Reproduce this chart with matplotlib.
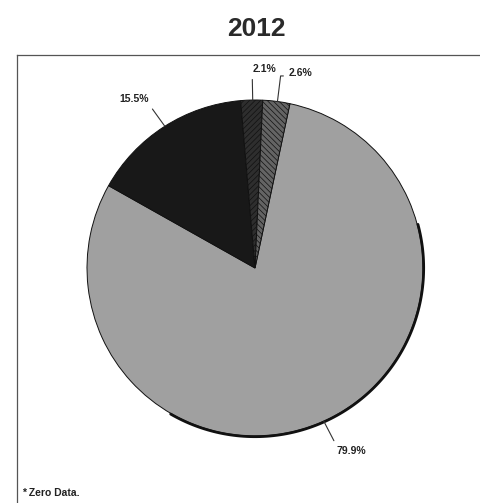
import matplotlib

matplotlib.use("Agg")
import matplotlib.pyplot as plt
import numpy as np
from matplotlib.lines import Line2D

plt.rcParams["font.family"] = ["Liberation Sans", "DejaVu Sans"]
plt.rcParams["hatch.linewidth"] = 0.5

# data, clockwise from just right of 12 o'clock
shares = [79.9, 15.5, 2.1, 2.6]
labels = ["79.9%", "15.5%", "2.1%", "2.6%"]
colors = ["#a0a0a0", "#181818", "#2e2e2e", "#646464"]
hatches = [None, None, "//////", "\\\\\\\\\\\\"]
title = "2012"
footnote = "* Zero Data."

W, H, dpi = 481, 503, 100
CX, CY, R = 255, 268, 168  # pie centre / radius in pixels
fig = plt.figure(figsize=(W / dpi, H / dpi), dpi=dpi)
ax = fig.add_axes([0, 0, 1, 1])

start = 78.0
wedges, _ = ax.pie(shares, colors=colors, startangle=start, counterclock=False,
                   wedgeprops=dict(edgecolor="#111111", linewidth=0.7))
for w, h in zip(wedges, hatches):
    if h:
        w.set_hatch(h)

# shadow rim along lower edge
th = np.linspace(np.radians(-120), np.radians(15), 120)
ax.plot(1.004 * np.cos(th), 1.004 * np.sin(th), color="#111111", lw=2.0,
        solid_capstyle="round")

# label text positions (data units) and leader styles
text_pos = [(0.574, -1.089), (-0.72, 1.006), (0.054, 1.185), (0.202, 1.161)]
ha = ["center", "center", "center", "left"]
relpos = [(0.0, 1.0), (1.0, 0.0), (0.0, 0.0), (0.0, 0.2)]
conn = ["arc3", "arc3", "arc3", "angle,angleA=180,angleB=83,rad=0"]
cum = start
for share, lab, (tx, ty), a, rp, cs in zip(shares, labels, text_pos, ha, relpos, conn):
    mid = np.radians(cum - share * 3.6 / 2)
    cum -= share * 3.6
    ex, ey = np.cos(mid), np.sin(mid)
    ax.annotate(lab, xy=(ex, ey), xytext=(tx, ty), ha=a, va="center",
                fontsize=7.5, fontweight="bold", color="#222222",
                arrowprops=dict(arrowstyle="-", color="#333333", lw=0.8,
                                relpos=rp, connectionstyle=cs,
                                shrinkA=2, shrinkB=0))

ax.set_aspect("auto")
ax.set_xlim(-CX / R, (W - CX) / R)
ax.set_ylim(-(H - CY) / R, CY / R)
ax.axis("off")

# chart frame
fig.add_artist(Line2D([17 / W, 1], [1 - 55 / H] * 2, transform=fig.transFigure,
                      color="#555555", lw=0.9))
fig.add_artist(Line2D([17 / W] * 2, [0, 1 - 55 / H], transform=fig.transFigure,
                      color="#555555", lw=0.9))

fig.text(256 / W, 1 - 29 / H, title, ha="center", va="center",
         fontsize=19, fontweight="bold", color="#2a2a2a")
fig.text(22 / W, 1 - 493 / H, footnote, ha="left", va="center",
         fontsize=7.5, fontweight="bold", color="#222222")

fig.savefig("out.png", dpi=dpi)
